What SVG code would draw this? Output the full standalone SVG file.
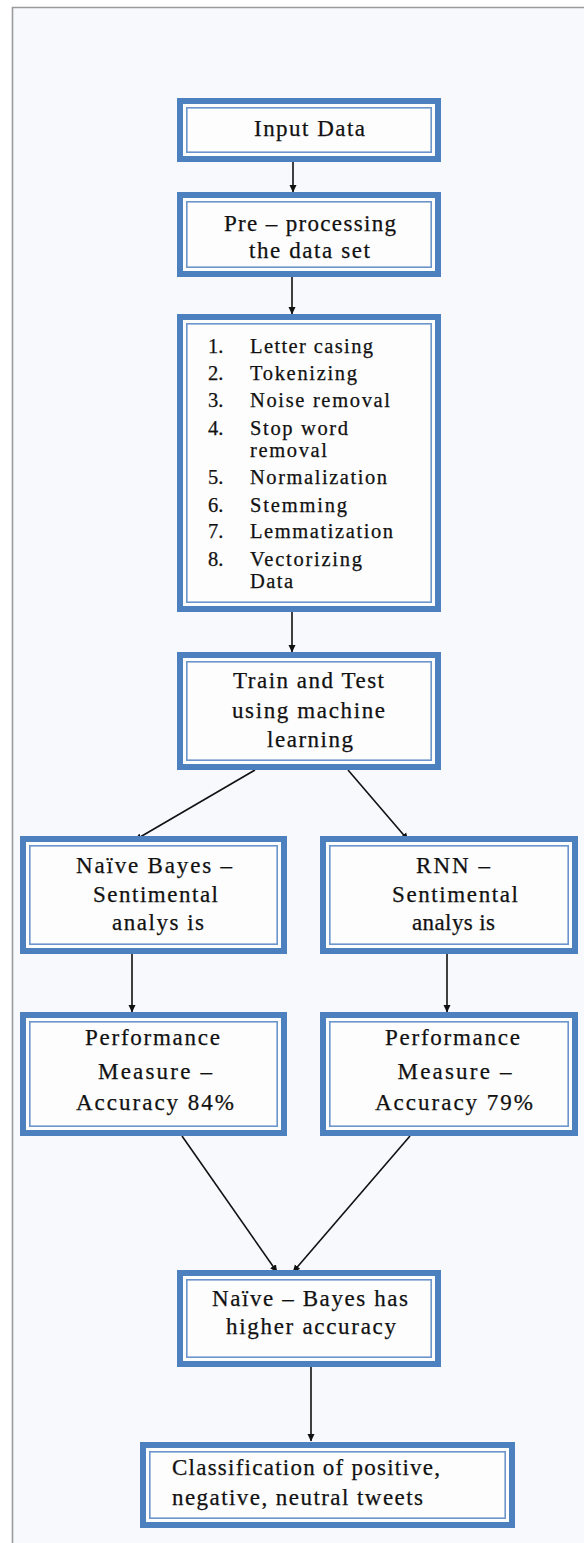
<svg xmlns="http://www.w3.org/2000/svg" width="584" height="1543" viewBox="0 0 584 1543">
  <defs>
    <marker id="arrow" markerWidth="8" markerHeight="8" refX="7" refY="4" orient="auto" markerUnits="userSpaceOnUse">
      <path d="M0,0.5 L7.5,4 L0,7.5 Z" fill="#111"/>
    </marker>
    <style>
      .frame { fill: #f8f9fc; }
      .edge { stroke: #9a9a9a; stroke-width: 1.6; fill: none; }
      .band { fill: #fdfdfd; stroke: #4d80bf; stroke-width: 6; }
      .inner { fill: none; stroke: #6c95cc; stroke-width: 1.6; }
      .t { font-family: "Liberation Serif", "DejaVu Serif", serif; font-size: 23px; fill: #111; stroke: #111; stroke-width: 0.25; text-anchor: middle; }
      .s { text-anchor: start; }
      .l { font-family: "Liberation Serif", "DejaVu Serif", serif; font-size: 20.5px; fill: #111; stroke: #111; stroke-width: 0.25; }
      .conn { stroke: #111; stroke-width: 1.6; fill: none; marker-end: url(#arrow); }
    </style>
  </defs>

  <!-- page background and frame -->
  <rect x="0" y="0" width="584" height="1543" fill="#ffffff"/>
  <rect class="frame" x="12" y="7" width="572" height="1536"/>
  <path class="edge" d="M12.5,1543 V7.5 H584"/>

  <!-- connectors -->
  <g id="connectors">
    <line class="conn" x1="293" y1="162" x2="293" y2="192"/>
    <line class="conn" x1="292" y1="277" x2="292" y2="314"/>
    <line class="conn" x1="292" y1="612" x2="292" y2="652"/>
    <line class="conn" x1="255" y1="770" x2="135" y2="840"/>
    <line class="conn" x1="348" y1="770" x2="408" y2="840"/>
    <line class="conn" x1="132" y1="954" x2="132" y2="1012"/>
    <line class="conn" x1="447" y1="954" x2="447" y2="1012"/>
    <line class="conn" x1="182" y1="1136" x2="277" y2="1272"/>
    <line class="conn" x1="410" y1="1136" x2="293" y2="1272"/>
    <line class="conn" x1="311" y1="1364" x2="311" y2="1441"/>
  </g>

  <!-- Input Data -->
  <g id="input-data">
    <rect class="band" x="180" y="101" width="258" height="58"/>
    <rect class="inner" x="186.8" y="107.8" width="244.4" height="44.4"/>
    <text class="t" x="309.5" y="136" textLength="111">Input Data</text>
  </g>

  <!-- Pre-processing -->
  <g id="preprocessing">
    <rect class="band" x="180" y="195" width="258" height="79"/>
    <rect class="inner" x="186.8" y="201.8" width="244.4" height="65.4"/>
    <text class="t" x="310" y="231" textLength="172">Pre – processing</text>
    <text class="t" x="309.5" y="258" textLength="121">the data set</text>
  </g>

  <!-- Pre-processing steps -->
  <g id="steps">
    <rect class="band" x="180" y="317" width="258" height="292"/>
    <rect class="inner" x="186.8" y="323.8" width="244.4" height="278.4"/>
    <text class="l" x="208" y="353">1.</text><text class="l" x="250" y="353" textLength="123">Letter casing</text>
    <text class="l" x="208" y="380">2.</text><text class="l" x="250" y="380" textLength="107">Tokenizing</text>
    <text class="l" x="208" y="407">3.</text><text class="l" x="250" y="407" textLength="140">Noise removal</text>
    <text class="l" x="208" y="435">4.</text><text class="l" x="250" y="435" textLength="98">Stop word</text>
    <text class="l" x="250" y="457" textLength="77">removal</text>
    <text class="l" x="208" y="484">5.</text><text class="l" x="250" y="484" textLength="137">Normalization</text>
    <text class="l" x="208" y="512">6.</text><text class="l" x="250" y="512" textLength="97">Stemming</text>
    <text class="l" x="208" y="538">7.</text><text class="l" x="250" y="538" textLength="143">Lemmatization</text>
    <text class="l" x="208" y="566">8.</text><text class="l" x="250" y="566" textLength="112">Vectorizing</text>
    <text class="l" x="250" y="588" textLength="43">Data</text>
  </g>

  <!-- Train and Test -->
  <g id="train-test">
    <rect class="band" x="180" y="655" width="258" height="112"/>
    <rect class="inner" x="186.8" y="661.8" width="244.4" height="98.4"/>
    <text class="t" x="308.5" y="688" textLength="151">Train and Test</text>
    <text class="t" x="308.5" y="718" textLength="153">using machine</text>
    <text class="t" x="310" y="747" textLength="86">learning</text>
  </g>

  <!-- Naive Bayes -->
  <g id="naive-bayes">
    <rect class="band" x="23" y="839" width="261" height="112"/>
    <rect class="inner" x="29.8" y="845.8" width="247.4" height="98.4"/>
    <text class="t" x="154" y="873" textLength="156">Naïve Bayes –</text>
    <text class="t" x="155.5" y="902" textLength="125">Sentimental</text>
    <text class="t" x="158" y="930" textLength="92">analys is</text>
  </g>

  <!-- RNN -->
  <g id="rnn">
    <rect class="band" x="323" y="839" width="252" height="112"/>
    <rect class="inner" x="329.8" y="845.8" width="238.4" height="98.4"/>
    <text class="t" x="453" y="873" textLength="74">RNN –</text>
    <text class="t" x="455" y="902" textLength="126">Sentimental</text>
    <text class="t" x="453.5" y="930" textLength="83">analys is</text>
  </g>

  <!-- Performance: Naive Bayes -->
  <g id="perf-nb">
    <rect class="band" x="23" y="1015" width="261" height="118"/>
    <rect class="inner" x="29.8" y="1021.8" width="247.4" height="104.4"/>
    <text class="t" x="152.5" y="1045" textLength="135">Performance</text>
    <text class="t" x="155" y="1079" textLength="114">Measure –</text>
    <text class="t" x="155" y="1110" textLength="158">Accuracy 84%</text>
  </g>

  <!-- Performance: RNN -->
  <g id="perf-rnn">
    <rect class="band" x="323" y="1015" width="252" height="118"/>
    <rect class="inner" x="329.8" y="1021.8" width="238.4" height="104.4"/>
    <text class="t" x="452.5" y="1045" textLength="135">Performance</text>
    <text class="t" x="454.5" y="1079" textLength="114">Measure –</text>
    <text class="t" x="454" y="1110" textLength="158">Accuracy 79%</text>
  </g>

  <!-- Comparison result -->
  <g id="result">
    <rect class="band" x="180" y="1273" width="258" height="91"/>
    <rect class="inner" x="186.8" y="1279.8" width="244.4" height="77.4"/>
    <text class="t" x="310" y="1306" textLength="196">Naïve – Bayes has</text>
    <text class="t" x="311" y="1334" textLength="170">higher accuracy</text>
  </g>

  <!-- Classification -->
  <g id="classification">
    <rect class="band" x="143" y="1445" width="369" height="80"/>
    <rect class="inner" x="149.8" y="1451.8" width="355.4" height="66.4"/>
    <text class="t s" x="172" y="1475" textLength="268">Classification of positive,</text>
    <text class="t s" x="172" y="1505" textLength="251">negative, neutral tweets</text>
  </g>
</svg>
